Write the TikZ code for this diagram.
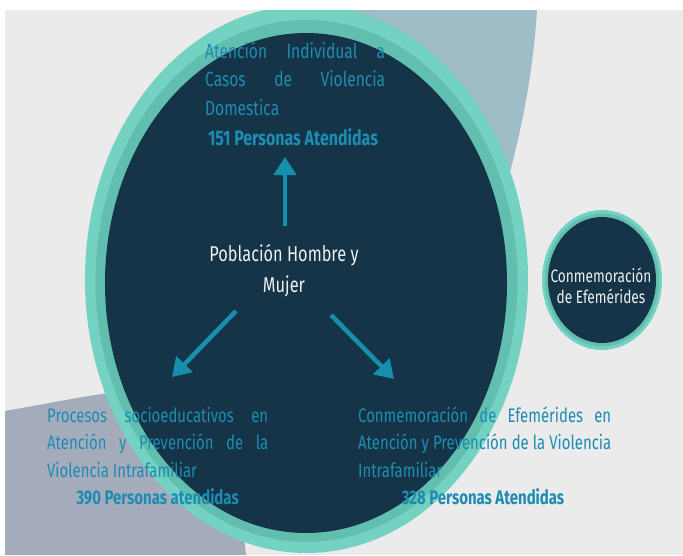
\documentclass[tikz,border=0pt]{standalone}
\usepackage{fontspec}
\setmainfont[FakeStretch=0.76]{Fira Sans}
\usetikzlibrary{arrows.meta}
\definecolor{bglight}{RGB}{235,235,235}
\definecolor{slate}{RGB}{158,189,198}
\definecolor{graybl}{RGB}{164,171,187}
\definecolor{tealout}{RGB}{116,210,194}
\definecolor{tealin}{RGB}{98,190,175}
\definecolor{navy}{RGB}{22,52,71}
\definecolor{txtblue}{RGB}{30,140,178}
\definecolor{arrblue}{RGB}{22,143,175}
\definecolor{wtxt}{RGB}{236,240,242}
\newcommand\myjl[2]{\hbox to #1{\spaceskip=0.25em plus 1fil minus 0.1em #2}}
\newcommand\mylast[1]{\hbox{#1}}
\begin{document}
\begin{tikzpicture}[x=1pt,y=-1pt,
  blocktxt/.style={anchor=base west, inner sep=0pt, text=txtblue, font=\fontsize{20.5}{28.5}\selectfont},
  blocktxtb/.style={anchor=base west, inner sep=0pt, text=txtblue, font=\fontsize{19.6}{27.5}\selectfont},
  boldtxt/.style={anchor=base, inner sep=0pt, text=txtblue, font=\fontsize{21}{28.5}\selectfont\bfseries},
  boldtxtb/.style={anchor=base, inner sep=0pt, text=txtblue, font=\fontsize{19.7}{27.5}\selectfont\bfseries},
  whitetxt/.style={anchor=base, inner sep=0pt, text=wtxt, align=center},
  arr/.style={draw=arrblue, line width=4.5pt, -{Triangle[length=18pt,width=22pt]}},
]
\useasboundingbox (0,0) rectangle (683,555);
\fill[white] (0,0) rectangle (683,555);
\begin{scope}
\clip (5,10) rectangle (683,555);
\fill[bglight] (5,10) rectangle (683,555);
\fill[slate] (335,10) -- (537,10) .. controls (534,60) and (525,120) .. (505,190) -- (335,190) -- cycle;
\fill[graybl] (5,411) .. controls (50,403) and (90,395) .. (130,390) -- (230,400) -- (246,555) -- (5,555) -- cycle;
\fill[tealout] (306.5,279) ellipse [x radius=221.5pt, y radius=274pt];
\fill[tealin] (306.5,281) ellipse [x radius=211pt, y radius=261pt];
\fill[navy] (306,283) ellipse [x radius=201pt, y radius=250pt];
\fill[tealout] (602,280) ellipse [x radius=60pt, y radius=70pt];
\fill[tealin] (602,280) ellipse [x radius=57pt, y radius=66.5pt];
\fill[navy] (602,280) ellipse [x radius=54pt, y radius=63pt];
\end{scope}

\node[blocktxt] (t1) at (205,58) {\begin{minipage}[t]{180pt}\myjl{180pt}{Atención Individual a}\myjl{180pt}{Casos de Violencia}\mylast{Domestica}\end{minipage}};
\node[boldtxt] (t1b) at (293,145) {151 Personas Atendidas};
\node[blocktxtb] (t2) at (47,422) {\begin{minipage}[t]{221pt}\myjl{221pt}{Procesos socioeducativos en}\myjl{221pt}{Atención y Prevención de la}\mylast{Violencia Intrafamiliar}\end{minipage}};
\node[boldtxtb] (t2b) at (157.5,504.5) {390 Personas atendidas};
\node[blocktxtb] (t3) at (358,422) {\begin{minipage}[t]{253pt}\myjl{253pt}{Conmemoración de Efemérides en}\myjl{253pt}{Atención y Prevención de la Violencia}\mylast{Intrafamiliar}\end{minipage}};
\node[boldtxtb] (t3b) at (483,504.5) {328 Personas Atendidas};

\node[whitetxt, font=\fontsize{21.5}{31}\selectfont] (pob) at (284,292) {Población Hombre y\\Mujer};
\node[whitetxt, font=\fontsize{18}{21}\selectfont] (conm) at (601,303) {Conmemoración\\de Efemérides};

\coordinate (up1) at (285,226); \coordinate (up2) at (285,157);
\coordinate (dl1) at (236,311); \coordinate (dl2) at (172,377);
\coordinate (dr1) at (331,315); \coordinate (dr2) at (394,379);
\draw[arr] (up1) -- (up2);
\draw[arr] (dl1) -- (dl2);
\draw[arr] (dr1) -- (dr2);
\end{tikzpicture}
\end{document}
